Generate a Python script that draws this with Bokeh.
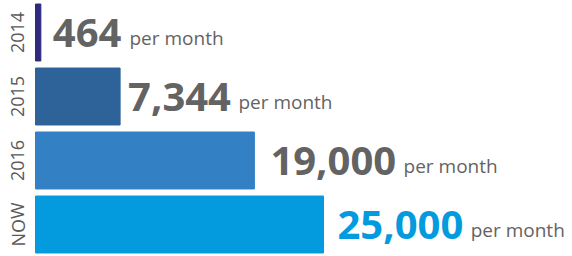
from bokeh.plotting import figure
from bokeh.models import ColumnDataSource, FactorRange, Range1d
from bokeh.core.properties import value
from bokeh.embed import file_html
from bokeh.resources import INLINE

years = ["2014", "2015", "2016", "NOW"]
counts = [464, 7344, 19000, 25000]
count_labels = ["464", "7,344", "19,000", "25,000"]
suffix = ["per month", "per month", "per month", "per month"]

bar_colors = ["#2e2a7e", "#2d6399", "#3380c4", "#049ade"]
num_colors = ["#636363", "#636363", "#636363", "#049ade"]

NUM_SIZE = 40

def text_width(s, size):
    w = 0.0
    for ch in s:
        w += 0.27 * size if ch == "," else 0.572 * size
    return w

num_offsets = [12, 8, 16, 14]
suf_offsets = [o + text_width(s, NUM_SIZE) + 8 for o, s in zip(num_offsets, count_labels)]

src = ColumnDataSource(dict(
    year=years, count=counts, label=count_labels, suffix=suffix,
    bar_color=bar_colors, num_color=num_colors,
    num_off=num_offsets, suf_off=suf_offsets, zero=[0] * len(years),
))

px = 25000 / 288.0
p = figure(width=572, height=256, output_backend="svg", toolbar_location=None,
           y_range=FactorRange(factors=list(reversed(years)), range_padding=0),
           x_range=Range1d(-35 * px, (572 - 35) * px),
           min_border=0, min_border_left=0, min_border_right=0,
           min_border_top=0, min_border_bottom=0)
p.axis.visible = False
p.grid.visible = False
p.outline_line_color = None
p.background_fill_color = "white"
p.border_fill_color = "white"

p.hbar(y="year", left=0, right="count", height=0.89, color="bar_color", source=src)

p.text(x="count", y="year", text="label", x_offset="num_off", y_offset=0,
       text_font=value("Open Sans"), text_font_style="bold",
       text_font_size=f"{NUM_SIZE}px", text_color="num_color",
       text_baseline="alphabetic", text_align="left", source=src)

p.text(x="count", y="year", text="suffix", x_offset="suf_off", y_offset=5,
       text_font=value("Open Sans"), text_font_size="19px", text_color="#636363",
       text_baseline="alphabetic", text_align="left", source=src)

p.text(x="zero", y="year", text="year", x_offset=-18, angle=1.5708,
       text_font=value("Open Sans"), text_font_size="18px", text_color="#5a5a5a",
       text_baseline="middle", text_align="center", source=src)

open("out.html", "w").write(file_html(p, INLINE))
